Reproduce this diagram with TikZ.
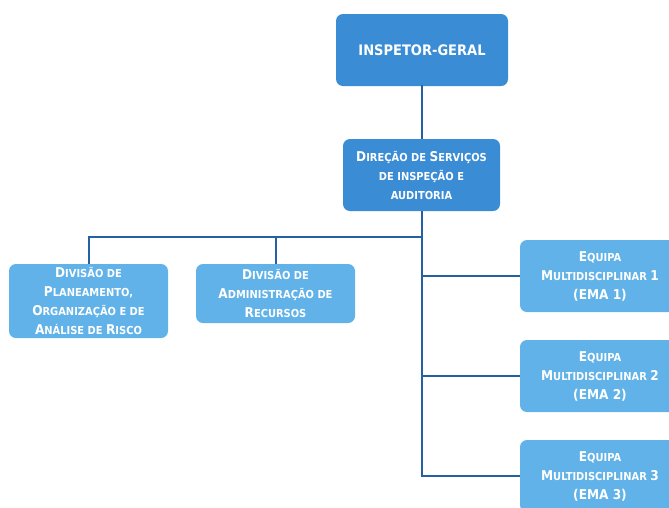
\documentclass[tikz,border=0pt]{standalone}
\usepackage{fontspec}
\setmainfont{DejaVu Sans Condensed}
\definecolor{darkbox}{RGB}{58,140,212}
\definecolor{lightbox}{RGB}{96,178,232}
\definecolor{linec}{RGB}{36,96,162}
\newcommand{\Bg}[1]{{\fontsize{13.5}{19}\selectfont #1}}
\newcommand{\Sm}[1]{{\fontsize{11}{19}\selectfont #1}}
\begin{document}
\begin{tikzpicture}[x=1pt,y=-1pt,
  box/.style={rounded corners=7pt, text=white, align=center, inner sep=0pt,
    font=\bfseries\fontsize{11}{19}\selectfont},
  conn/.style={draw=linec, line width=2pt}]
\path[use as bounding box] (0,0) rectangle (669,507);
\clip (0,0) rectangle (669,507);
\fill[white] (0,0) rectangle (669,507);
\node[box, fill=darkbox, minimum width=172pt, minimum height=72pt,
  font=\bfseries\fontsize{14.5}{16}\selectfont] (ig) at (422,50) {INSPETOR-GERAL};
\node[box, fill=darkbox, minimum width=157pt, minimum height=72pt] (dir) at (421.5,175)
  {\Bg{D}\Sm{IREÇÃO DE} \Bg{S}\Sm{ERVIÇOS}\\\Sm{DE INSPEÇÃO E}\\\Sm{AUDITORIA}};
\node[box, fill=lightbox, minimum width=159pt, minimum height=74pt] (pl) at (88.5,301)
  {\Bg{D}\Sm{IVISÃO DE}\\\Bg{P}\Sm{LANEAMENTO,}\\\Bg{O}\Sm{RGANIZAÇÃO E DE}\\\Bg{A}\Sm{NÁLISE DE} \Bg{R}\Sm{ISCO}};
\node[box, fill=lightbox, minimum width=159pt, minimum height=59pt] (adm) at (275.5,293.5)
  {\Bg{D}\Sm{IVISÃO DE}\\\Bg{A}\Sm{DMINISTRAÇÃO DE}\\\Bg{R}\Sm{ECURSOS}};
\node[box, fill=lightbox, minimum width=160pt, minimum height=72pt] (e1) at (600,276)
  {\Bg{E}\Sm{QUIPA}\\\Bg{M}\Sm{ULTIDISCIPLINAR} \Bg{1}\\\Bg{(EMA 1)}};
\node[box, fill=lightbox, minimum width=160pt, minimum height=72pt] (e2) at (600,376)
  {\Bg{E}\Sm{QUIPA}\\\Bg{M}\Sm{ULTIDISCIPLINAR} \Bg{2}\\\Bg{(EMA 2)}};
\node[box, fill=lightbox, minimum width=160pt, minimum height=72pt] (e3) at (600,476)
  {\Bg{E}\Sm{QUIPA}\\\Bg{M}\Sm{ULTIDISCIPLINAR} \Bg{3}\\\Bg{(EMA 3)}};
\coordinate (bus) at (422,237);
\draw[conn] (ig.south) -- (dir.south |- ig.south) -- (dir.north);
\draw[conn] (dir.south) -- (dir.south |- e3.west) -- (e3.west);
\draw[conn] (dir.south |- e1.west) -- (e1.west);
\draw[conn] (dir.south |- e2.west) -- (e2.west);
\draw[conn] (dir.south |- bus) -| (pl.north);
\draw[conn] (bus -| adm.north) -- (adm.north);
\end{tikzpicture}
\end{document}
